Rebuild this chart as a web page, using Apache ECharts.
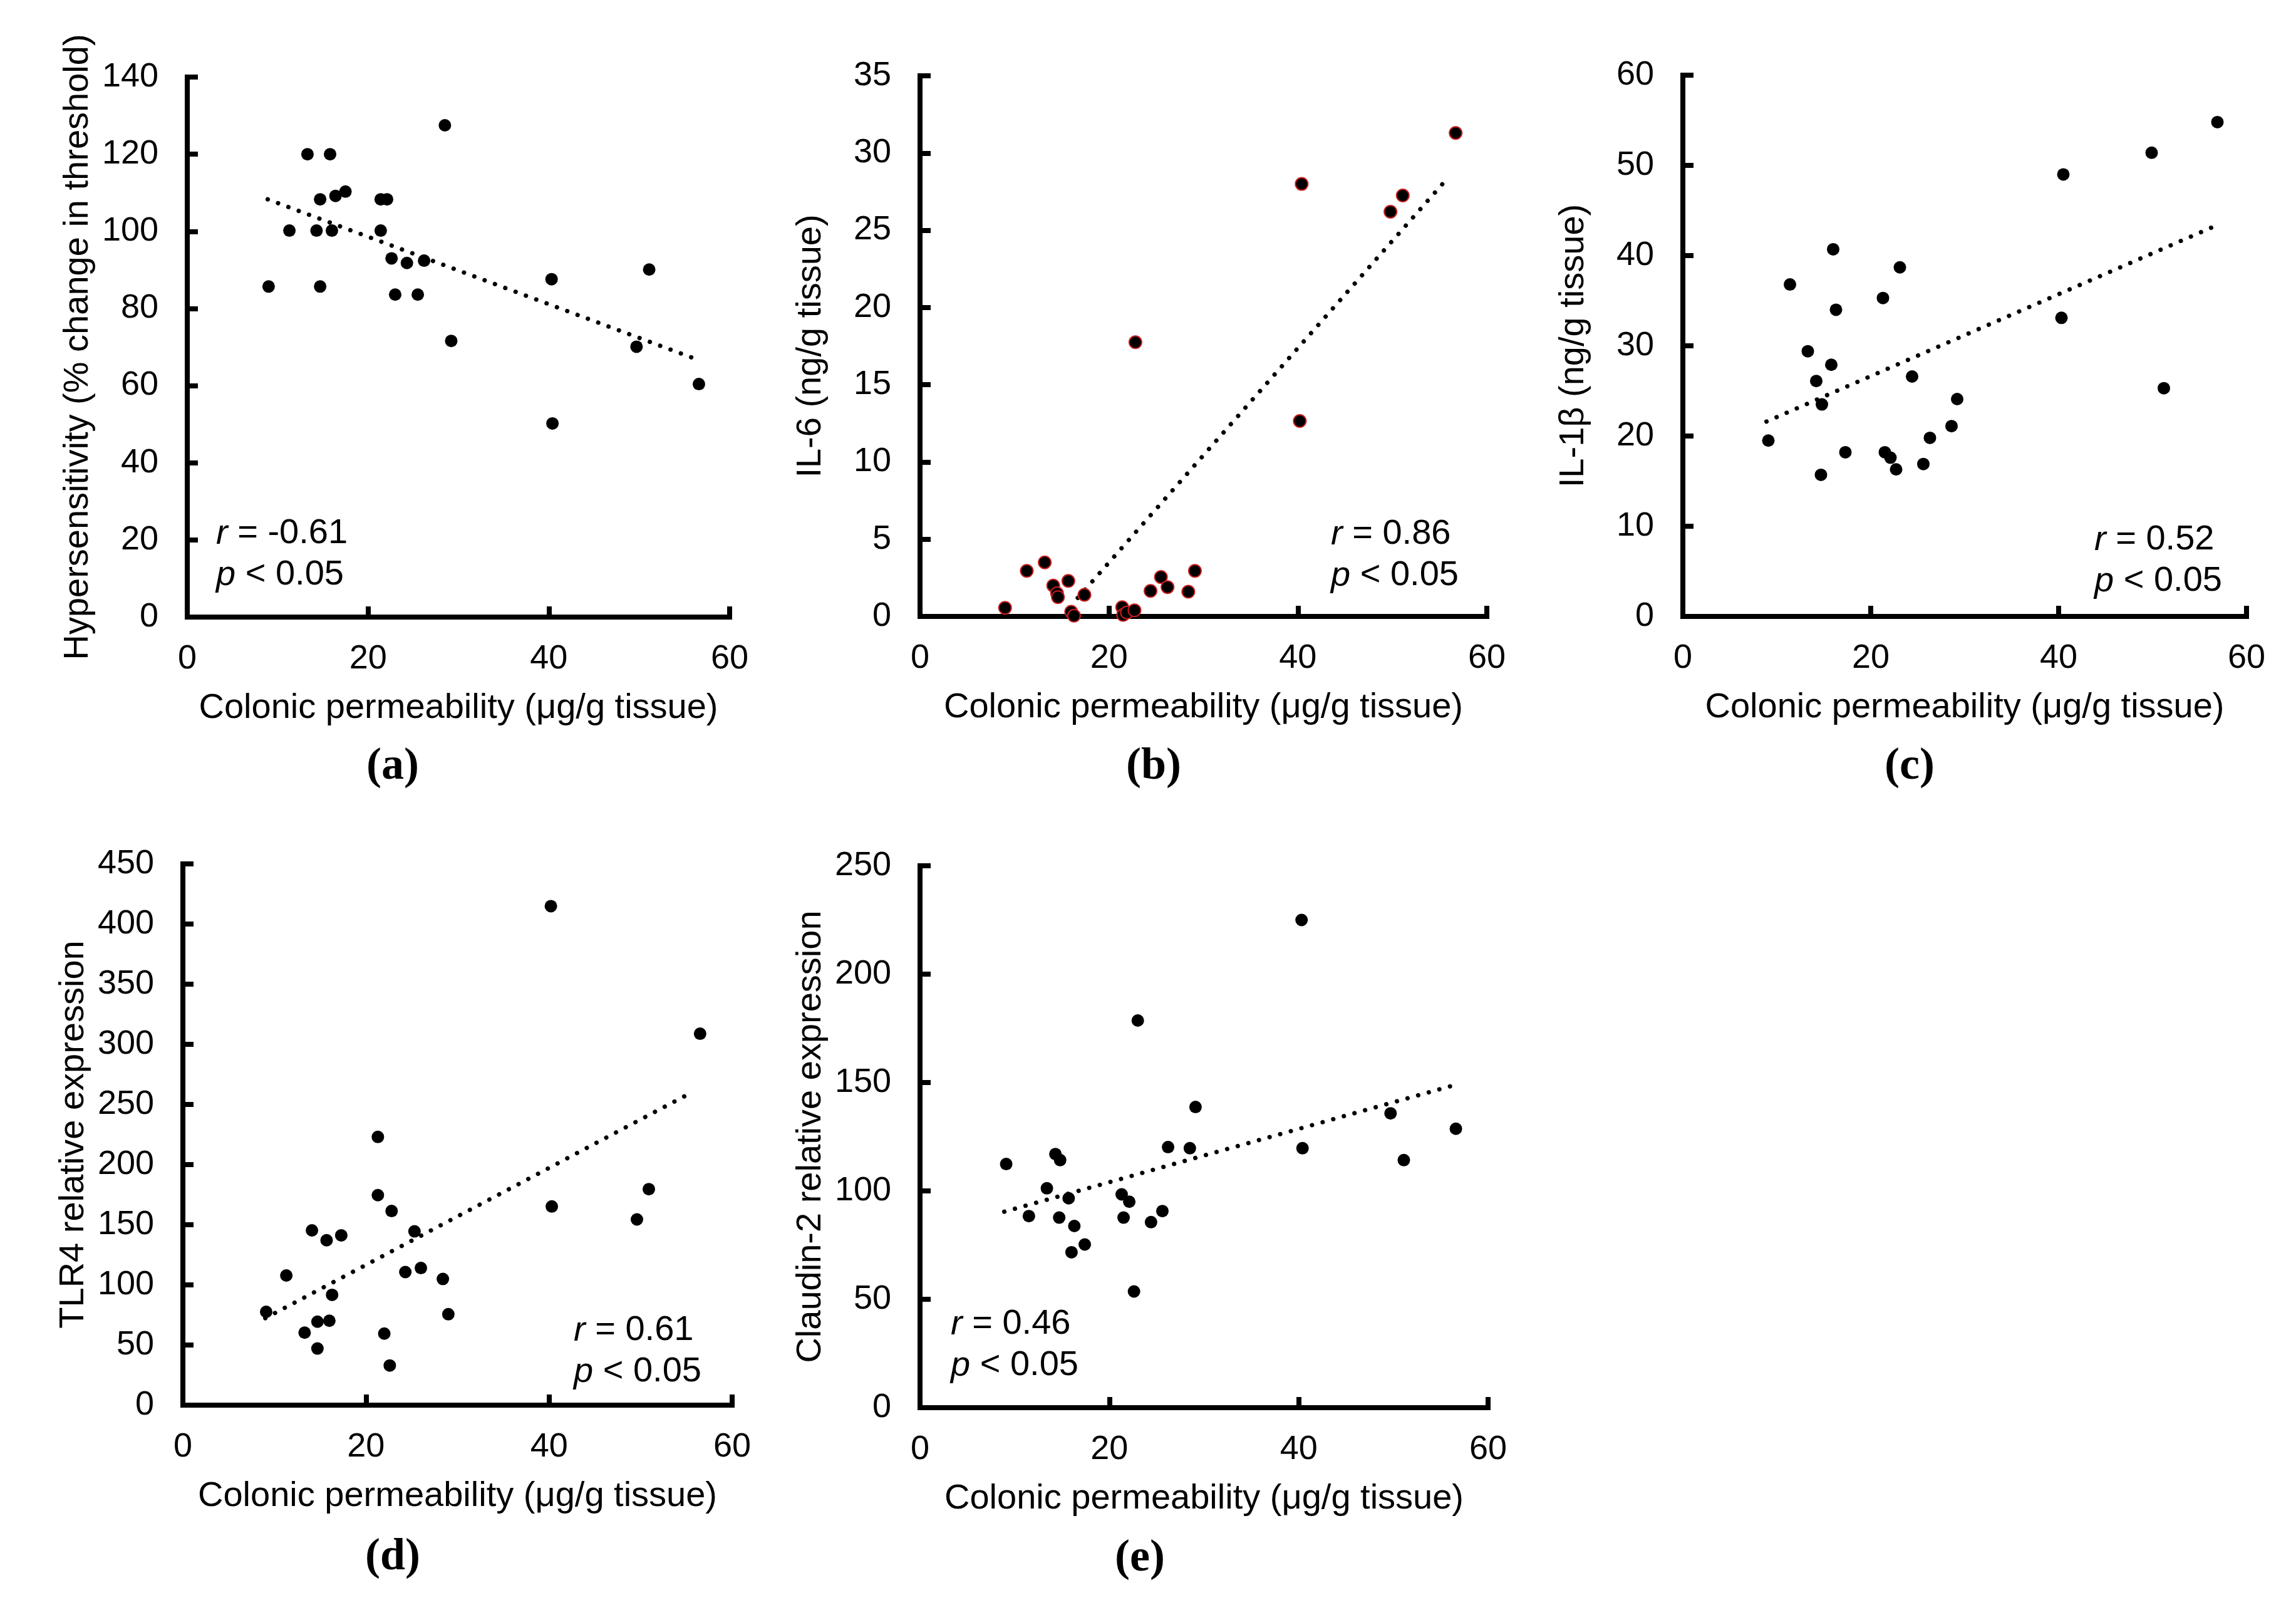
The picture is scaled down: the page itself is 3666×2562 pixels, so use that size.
<!DOCTYPE html>
<html>
<head>
<meta charset="utf-8">
<script src="https://cdn.jsdelivr.net/npm/echarts@6/dist/echarts.min.js"></script>
<style>
  html, body { margin: 0; padding: 0; background: #fff; }
  #main { width: 3666px; height: 2562px; }
</style>
</head>
<body>
<div id="main"></div>
<script>
// 数据：每个面板的散点 [通透性, 指标]
var ptsA = [[9.0,85.7],[11.3,100.2],[13.3,120],[14.3,100.2],[14.7,85.7],[14.7,108.3],[15.8,120],[16.0,100.2],[16.4,109.2],[17.5,110.3],
  [21.4,108.3],[21.4,100.2],[22.1,108.3],[22.6,93],[23.0,83.6],[24.3,91.8],[25.5,83.6],[26.2,92.4],[28.5,127.5],[29.2,71.6],
  [40.3,87.6],[40.4,50.2],[49.7,70.1],[51.1,90.1],[56.6,60.4]];
var ptsB = [[9.0,0.56],[11.3,2.95],[13.2,3.5],[14.1,2.0],[14.5,1.5],[14.6,1.25],[15.7,2.3],[16.0,0.3],[16.3,0.05],[17.4,1.4],
  [21.4,0.6],[21.5,0.1],[21.9,0.25],[22.7,0.4],[22.8,17.75],[24.4,1.65],[25.5,2.55],[26.2,1.9],[28.4,1.6],[29.1,2.95],
  [40.2,12.65],[40.4,28.0],[49.8,26.2],[51.1,27.25],[56.7,31.3]];
var ptsC = [[9.1,19.5],[11.4,36.8],[13.3,29.4],[14.2,26.1],[14.7,15.7],[14.8,23.5],[15.8,27.9],[16.0,40.7],[16.3,34.0],[17.3,18.2],
  [21.3,35.3],[21.5,18.2],[22.1,17.6],[22.7,16.3],[23.1,38.7],[24.4,26.6],[25.6,16.9],[26.3,19.8],[28.6,21.1],[29.2,24.1],
  [40.3,33.1],[40.5,49.0],[49.9,51.4],[51.2,25.3],[56.9,54.8]];
var ptsD = [[9.1,77.6],[11.3,107.8],[13.3,60.3],[14.1,145.3],[14.7,47.1],[14.7,69.4],[15.7,137.1],[16.0,70.2],[16.3,91.7],[17.3,141.2],
  [21.3,223],[21.3,174.6],[22.0,59.5],[22.6,33.0],[22.8,161.4],[24.3,110.7],[25.3,144.5],[26.0,114],[28.4,104.9],[29.0,75.6],
  [40.2,414.9],[40.3,165.2],[49.6,154.4],[50.9,179.6],[56.5,308.8]];
var ptsE = [[9.1,112.4],[11.5,88.4],[13.4,101.2],[14.3,117],[14.7,87.7],[14.8,114.2],[15.7,96.6],[16.0,71.7],[16.3,83.8],[17.4,75.3],
  [21.3,98.4],[21.5,87.7],[22.1,95],[22.6,53.6],[23.0,178.6],[24.4,85.6],[25.6,90.7],[26.2,120.2],[28.5,119.7],[29.1,138.7],
  [40.3,225],[40.4,119.7],[49.7,135.8],[51.1,114.2],[56.6,128.7]];

// 趋势线端点
var trendA = [[8.9,108.3],[55.8,67.3]];
var trendB = [[16.7,1.2],[55.6,28.2]];
var trendC = [[8.9,21.6],[56.7,43.3]];
var trendD = [[9.0,72.3],[55.4,259.3]];
var trendE = [[8.9,90.4],[56.1,148.4]];

// 坐标轴范围
var yMax = [140, 35, 60, 450, 250];
var yStep = [20, 5, 10, 50, 50];
var yNames = ['Hypersensitivity (% change in threshold)', 'IL-6 (ng/g tissue)', 'IL-1β (ng/g tissue)',
  'TLR4 relative expression', 'Claudin-2 relative expression'];
var rValues = ['-0.61', '0.86', '0.52', '0.61', '0.46'];
var panelTags = ['(a)', '(b)', '(c)', '(d)', '(e)'];
var xName = 'Colonic permeability (μg/g tissue)';

var allPts = [ptsA, ptsB, ptsC, ptsD, ptsE];
var allTrend = [trendA, trendB, trendC, trendD, trendE];

// 版面位置
var grids = [
  { left: 299, top: 123, width: 866, height: 862 },
  { left: 1469, top: 121, width: 905, height: 863 },
  { left: 2687, top: 120, width: 900, height: 864 },
  { left: 292, top: 1379, width: 877, height: 864 },
  { left: 1469, top: 1382, width: 907, height: 865 }
];
var statPos = [[345, 852], [2125, 853], [3344, 862], [916, 2124], [1518, 2114]];
var tagPos = [[627, 1224], [1842, 1224], [3049, 1224], [627, 2486], [1820, 2488]];

var FONT = 'Liberation Sans';
var axisLineStyle = { color: '#000', width: 8, cap: 'square' };

var option = {
  animation: false,
  backgroundColor: '#fff',
  textStyle: { fontFamily: FONT, color: '#000' },
  grid: [],
  xAxis: [],
  yAxis: [],
  series: [],
  graphic: []
};

for (var i = 0; i < 5; i++) {
  option.grid.push(grids[i]);
  option.xAxis.push({
    gridIndex: i,
    type: 'value',
    min: 0, max: 60, interval: 20,
    name: xName,
    nameLocation: 'middle',
    nameGap: 118,
    nameTextStyle: { fontSize: 56, color: '#000', fontFamily: FONT },
    axisLine: { show: true, lineStyle: axisLineStyle },
    axisTick: { show: true, inside: true, length: 17, lineStyle: { color: '#000', width: 8 } },
    axisLabel: { fontSize: 54, color: '#000', margin: 40, fontFamily: FONT },
    splitLine: { show: false }
  });
  option.yAxis.push({
    gridIndex: i,
    type: 'value',
    min: 0, max: yMax[i], interval: yStep[i],
    name: yNames[i],
    nameLocation: 'middle',
    nameGap: 146,
    nameTextStyle: { fontSize: 56, color: '#000', fontFamily: FONT },
    axisLine: { show: true, lineStyle: axisLineStyle },
    axisTick: { show: true, inside: true, length: 17, lineStyle: { color: '#000', width: 8 } },
    axisLabel: { fontSize: 54, color: '#000', margin: 46, fontFamily: FONT },
    splitLine: { show: false }
  });
  option.series.push({
    type: 'line',
    xAxisIndex: i, yAxisIndex: i,
    data: allTrend[i],
    symbol: 'none',
    silent: true,
    lineStyle: { color: '#000', width: 7, type: [0.1, 17.5], cap: 'round' },
    z: 2
  });
  option.series.push({
    type: 'scatter',
    xAxisIndex: i, yAxisIndex: i,
    data: allPts[i],
    symbolSize: 20,
    itemStyle: i === 1
      ? { color: '#000', borderColor: '#c81e1e', borderWidth: 2, opacity: 1 }
      : { color: '#000', opacity: 1 },
    z: 3
  });
  // r 和 p 标注
  option.graphic.push({
    type: 'text',
    left: statPos[i][0],
    top: statPos[i][1] - 33,
    style: {
      text: '{i|r} = ' + rValues[i] + '\n{i|p} < 0.05',
      fill: '#000',
      fontSize: 56,
      fontFamily: FONT,
      lineHeight: 66,
      rich: {
        i: { fontStyle: 'italic', fontSize: 56, fontFamily: FONT, lineHeight: 66 }
      }
    }
  });
  // 面板标签
  option.graphic.push({
    type: 'text',
    x: tagPos[i][0],
    y: tagPos[i][1],
    style: {
      text: panelTags[i],
      fill: '#000',
      font: 'bold 72px "Liberation Serif"',
      textAlign: 'center',
      textVerticalAlign: 'middle'
    }
  });
}

var myChart = echarts.init(document.getElementById('main'));
myChart.setOption(option);
</script>
</body>
</html>
